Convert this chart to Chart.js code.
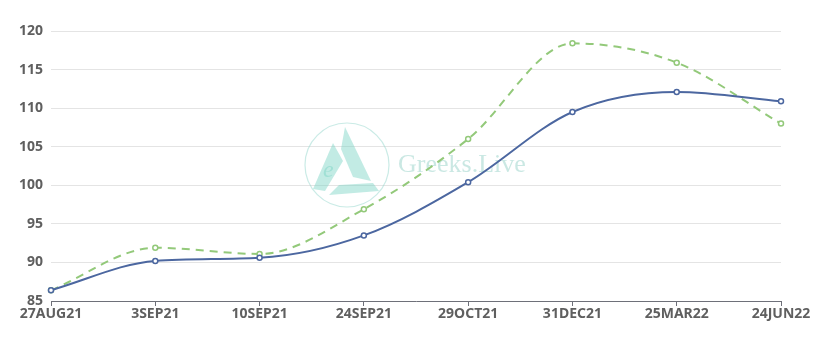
<!DOCTYPE html>
<html>
<head>
<meta charset="utf-8">
<script src="https://cdn.jsdelivr.net/npm/chart.js@4/dist/chart.umd.min.js"></script>
<style>
  html, body { margin: 0; padding: 0; background: #fff; }
  #wrap { width: 818px; height: 339px; }
</style>
</head>
<body>
<div id="wrap"><canvas id="termChart"></canvas></div>
<script>
const categories = ["27AUG21", "3SEP21", "10SEP21", "24SEP21", "29OCT21", "31DEC21", "25MAR22", "24JUN22"];
const blueValues = [86.4, 90.2, 90.6, 93.5, 100.4, 109.5, 112.1, 110.9];
const greenValues = [86.4, 91.9, 91.1, 96.9, 106.0, 118.4, 115.9, 108.0];
const yTicks = [85, 90, 95, 100, 105, 110, 115, 120];

// faint logo + text watermark behind the lines
const watermark = {
  id: "watermark",
  beforeDatasetsDraw(chart) {
    const c = chart.ctx;
    const cx = 347, cy = 165, r = 42;
    c.save();
    c.strokeStyle = "rgba(150, 215, 205, 0.5)";
    c.lineWidth = 1.2;
    c.beginPath();
    c.arc(cx, cy, r, 0, Math.PI * 2);
    c.stroke();
    c.fillStyle = "rgba(120, 210, 195, 0.45)";
    // three pieces of the triangle
    c.beginPath();
    c.moveTo(cx - 2, cy - 38); c.lineTo(cx + 24, cy + 16); c.lineTo(cx + 6, cy + 12); c.lineTo(cx - 6, cy - 16);
    c.closePath(); c.fill();
    c.beginPath();
    c.moveTo(cx - 14, cy - 22); c.lineTo(cx - 4, cy - 4); c.lineTo(cx - 22, cy + 26); c.lineTo(cx - 34, cy + 24);
    c.closePath(); c.fill();
    c.beginPath();
    c.moveTo(cx - 18, cy + 30); c.lineTo(cx + 32, cy + 26); c.lineTo(cx + 26, cy + 18); c.lineTo(cx - 8, cy + 20);
    c.closePath(); c.fill();
    c.font = "italic 24px 'Liberation Serif'";
    c.fillText("e", cx - 24, cy + 12);
    c.fillStyle = "rgba(150, 210, 200, 0.5)";
    c.font = "26px 'Liberation Serif'";
    c.textBaseline = "middle";
    c.fillText("Greeks.Live", 398, cy);
    c.restore();
  }
};

const labelFont = { family: "'Noto Sans', sans-serif", size: 14, weight: "bold" };

new Chart(document.getElementById("termChart"), {
  type: "line",
  data: {
    labels: categories,
    datasets: [
      {
        label: "Series A",
        data: blueValues,
        borderColor: "#4c67a0",
        borderWidth: 2,
        cubicInterpolationMode: "monotone",
        pointRadius: 2.5,
        pointBorderWidth: 1.5,
        pointBackgroundColor: "#fff",
        pointBorderColor: "#4c67a0",
      },
      {
        label: "Series B",
        data: greenValues,
        borderColor: "#93c97a",
        borderWidth: 2,
        borderDash: [8, 6],
        cubicInterpolationMode: "monotone",
        pointRadius: 2.5,
        pointBorderWidth: 1.5,
        pointBackgroundColor: "#fff",
        pointBorderColor: "#93c97a",
      },
    ],
  },
  options: {
    responsive: true,
    maintainAspectRatio: false,
    animation: false,
    layout: { padding: { top: 31, right: 37, bottom: 0, left: 0 } },
    plugins: { legend: { display: false }, tooltip: { enabled: false } },
    scales: {
      x: {
        offset: false,
        afterFit: (s) => { s.height = 38; },
        grid: { display: true, drawOnChartArea: false, drawTicks: true, tickLength: 5, color: "#6e7079" },
        border: { display: true, color: "#6e7079", width: 1 },
        ticks: { color: "#5f5f5f", font: labelFont, padding: 0, maxRotation: 0, autoSkip: false },
      },
      y: {
        min: 85,
        max: 120,
        afterFit: (s) => { s.width = 51; },
        afterBuildTicks: (s) => { s.ticks = yTicks.map((v) => ({ value: v })); },
        grid: { color: "#e4e4e4", drawTicks: false },
        border: { display: false },
        ticks: { color: "#5f5f5f", font: labelFont, padding: 8 },
      },
    },
  },
  plugins: [watermark],
});
</script>
</body>
</html>
